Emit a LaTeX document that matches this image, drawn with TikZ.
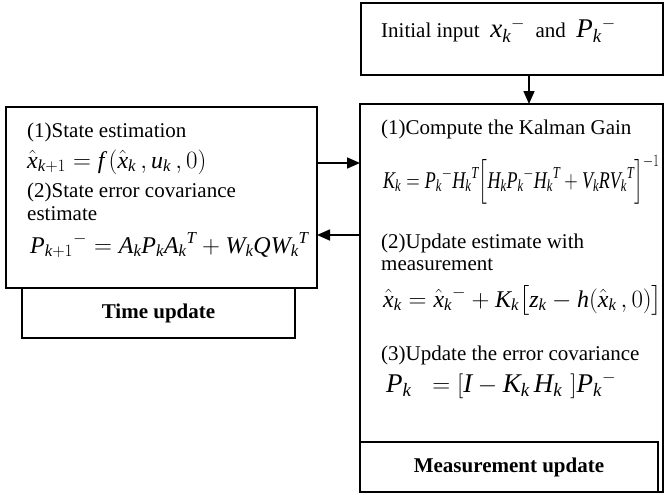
\documentclass[tikz,border=0pt]{standalone}
\usepackage{amsmath}
\usepackage{fontspec}
\setmainfont{Liberation Serif}
\usetikzlibrary{arrows.meta,positioning}
% Times-like letters and digits in math
\DeclareSymbolFont{tletters}{TU}{\rmdefault}{m}{it}
\DeclareSymbolFont{tupright}{TU}{\rmdefault}{m}{n}
\DeclareMathSymbol{x}{\mathalpha}{tletters}{`x}
\DeclareMathSymbol{f}{\mathalpha}{tletters}{`f}
\DeclareMathSymbol{u}{\mathalpha}{tletters}{`u}
\DeclareMathSymbol{k}{\mathalpha}{tletters}{`k}
\DeclareMathSymbol{z}{\mathalpha}{tletters}{`z}
\DeclareMathSymbol{h}{\mathalpha}{tletters}{`h}
\DeclareMathSymbol{P}{\mathalpha}{tletters}{`P}
\DeclareMathSymbol{A}{\mathalpha}{tletters}{`A}
\DeclareMathSymbol{W}{\mathalpha}{tletters}{`W}
\DeclareMathSymbol{Q}{\mathalpha}{tletters}{`Q}
\DeclareMathSymbol{T}{\mathalpha}{tletters}{`T}
\DeclareMathSymbol{K}{\mathalpha}{tletters}{`K}
\DeclareMathSymbol{H}{\mathalpha}{tletters}{`H}
\DeclareMathSymbol{V}{\mathalpha}{tletters}{`V}
\DeclareMathSymbol{R}{\mathalpha}{tletters}{`R}
\DeclareMathSymbol{I}{\mathalpha}{tletters}{`I}
\DeclareMathSymbol{0}{\mathalpha}{tupright}{`0}
\DeclareMathSymbol{1}{\mathalpha}{tupright}{`1}
\DeclareMathSymbol{+}{\mathbin}{tupright}{`+}
\DeclareMathSymbol{=}{\mathrel}{tupright}{`=}
\DeclareMathSymbol{(}{\mathopen}{tupright}{`(}
\DeclareMathSymbol{)}{\mathclose}{tupright}{`)}
\tikzset{
    box/.style={draw,line width=1.6pt,inner sep=0pt,outer sep=0pt},
    txt/.style={anchor=base west,inner sep=0pt},
    eq/.style={txt,font=\eqsize},
    flow/.style={line width=1.6pt,-{Triangle[length=13pt,width=11pt]}}
}
\newcommand{\bodysize}{\fontsize{21}{25}\selectfont}
\newcommand{\eqsize}{\fontsize{24}{28}\selectfont}
\newcommand{\bigeqsize}{\fontsize{27}{31}\selectfont}

\begin{document}
\begin{tikzpicture}[x=1pt,y=-1pt,font=\bodysize]
\useasboundingbox (0,0) rectangle (664,495);

% boxes
\node[box,minimum width=302pt,minimum height=72pt] (init) at (512,39) {};
\node[box,minimum width=311pt,minimum height=181pt] (predict) at (161.5,197.5) {};
\node[box,minimum width=273pt,minimum height=50pt] (timelbl) at (158.5,313) {\textbf{Time update}};
\node[box,minimum width=303pt,minimum height=388pt] (correct) at (511.5,298) {};
\node[box,minimum width=298pt,minimum height=50pt] (measlbl) at (509,467) {\textbf{Measurement update}};

% initial values
\node[txt] (start) at (381,38) {Initial input \ {\bigeqsize$x_k{}^{-}$}\ \ and \ {\bigeqsize$P_k{}^{-}$}};

% time update
\node[txt] (se) at (27,137) {(1)State estimation};
\node[eq] (sef) at (27,168) {$\hat{x}_{k+1} = f\,(\hat{x}_k\,, u_k\,, 0)$};
\node[txt] (ce) at (27,197) {(2)State error covariance};
\node[txt] (ce2) at (27,220) {estimate};
\node[eq] (cef) at (30,253) {$P_{k+1}{}^{-} = A_k P_k A_k{}^{T} + W_k Q W_k{}^{T}$};

% measurement update
\node[txt] (kg) at (381,134) {(1)Compute the Kalman Gain};
\node[eq] (kgf) at (383,188) {\scalebox{0.75}[1]{$K_k = P_k{}^{-}H_k{}^{T}\Bigl[H_k P_k{}^{-}H_k{}^{T} + V_k R V_k{}^{T}\Bigr]^{-1}$}};
\node[txt] (ue) at (381,248) {(2)Update estimate with};
\node[txt] (ue2) at (381,270) {measurement};
\node[eq] (uef) at (383,307) {$\hat{x}_k = \hat{x}_k{}^{-} + K_k\bigl[z_k - h(\hat{x}_k\,,0)\bigr]$};
\node[txt] (uc) at (381,360) {(3)Update the error covariance};
\node[txt,font=\bigeqsize] (ucf) at (386,392) {$P_k\;\; = [I - K_k\, H_k\,\,]P_k{}^{-}$};

% arrows between the steps
\coordinate (down) at (529,0);
\coordinate (fwd) at (0,163);
\coordinate (back) at (0,235);
\draw[flow] (init.south -| down) -- (correct.north -| down);
\draw[flow] (predict.east |- fwd) -- (correct.west |- fwd);
\draw[flow] (correct.west |- back) -- (predict.east |- back);

\end{tikzpicture}
\end{document}
